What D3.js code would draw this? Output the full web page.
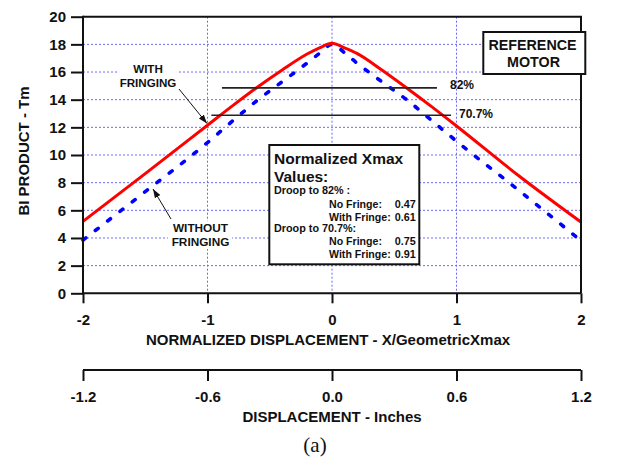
<!DOCTYPE html>
<html>
<head>
<meta charset="utf-8">
<script src="https://cdn.jsdelivr.net/npm/d3@7"></script>
<style>
  html, body { margin: 0; padding: 0; background: #fff; }
  svg { display: block; }
  text { font-family: "Liberation Sans", Arial, sans-serif; font-weight: bold; fill: #111; }
  text.caption { font-family: "Liberation Serif", "Times New Roman", serif; font-weight: normal; }
</style>
</head>
<body>
<svg id="chart" width="619" height="464"></svg>
<script>
// Normalized displacement samples (X / Geometric Xmax)
const xNorm = [-2, -1.5, -1, -0.8, -0.6, -0.4, -0.2, -0.1, 0, 0.1, 0.2, 0.4, 0.6, 0.8, 1, 1.5, 2];
// BI product (T·m) with fringing flux included
const withFringing = [5.2, 8.65, 12.15, 13.55, 14.9, 16.15, 17.3, 17.75, 18.08, 17.75, 17.35, 16.15, 14.85, 13.5, 12.1, 8.5, 5.15];
// BI product (T·m) without fringing flux
const withoutFringing = [3.85, 7.35, 10.9, 12.45, 13.95, 15.3, 16.65, 17.35, 18.0, 17.4, 16.65, 15.3, 14.0, 12.5, 11.0, 7.45, 3.8];

// Droop reference levels: label, BI level, x start, x end
const droopLabels = ["82%", "70.7%"];
const droopLevels = [14.85, 12.88];
const droopStart = [-0.884, -0.969];
const droopEnd = [0.843, 0.956];

// Tick values
const yTicks = [0, 2, 4, 6, 8, 10, 12, 14, 16, 18, 20];
const xTicks = [-2, -1, 0, 1, 2];
const inchTicks = [-1.2, -0.6, 0.0, 0.6, 1.2];

// Table of normalized Xmax values
const tableTitle = ["Normalized Xmax", "Values:"];
const tableGroups = ["Droop to 82% :", "Droop to 70.7%:"];
const tableRows = ["No Fringe:", "With Fringe:"];
const tableValues = [["0.47", "0.61"], ["0.75", "0.91"]];

const svg = d3.select("#chart");

const L = 83, R = 581, T = 16.7, B = 293.3;
const x = d3.scaleLinear().domain([-2, 2]).range([L, R]);
const y = d3.scaleLinear().domain([0, 20]).range([B, T]);
const xIn = d3.scaleLinear().domain([-1.2, 1.2]).range([L, R]);

const defs = svg.append("defs");
defs.append("marker")
  .attr("id", "arrow")
  .attr("viewBox", "0 0 10 10")
  .attr("refX", 10).attr("refY", 5)
  .attr("markerWidth", 9).attr("markerHeight", 9)
  .attr("markerUnits", "userSpaceOnUse")
  .attr("orient", "auto")
  .append("path").attr("d", "M0,1.5 L10,5 L0,8.5 Z").attr("fill", "#111");

// Grid
const grid = svg.append("g").attr("stroke", "#6a6aff").attr("stroke-width", 1).attr("stroke-dasharray", "2,2");
grid.selectAll("line.h").data(yTicks.filter(d => d > 0 && d < 20)).join("line")
  .attr("x1", L).attr("x2", R).attr("y1", d => y(d)).attr("y2", d => y(d));
grid.selectAll("line.v").data(xTicks.filter(d => d > -2 && d < 2)).join("line")
  .attr("class", "v")
  .attr("y1", T).attr("y2", B).attr("x1", d => x(d)).attr("x2", d => x(d));

// Curve annotations (white backing over the grid)
function annot(lines, cx, baselines, size, bg) {
  const g = svg.append("g");
  g.append("rect").attr("x", bg[0]).attr("y", bg[1]).attr("width", bg[2]).attr("height", bg[3]).attr("fill", "#fff");
  lines.forEach((t, i) => {
    g.append("text").attr("x", cx).attr("y", baselines[i]).attr("text-anchor", "middle")
      .attr("font-size", size).text(t);
  });
  return g;
}
annot(["WITH", "FRINGING"], 148, [72.5, 87], 11.6, [118, 62, 61, 27]);
annot(["WITHOUT", "FRINGING"], 200.5, [231.7, 246], 11.8, [168, 221, 64, 28]);

svg.append("line").attr("x1", 179).attr("y1", 89).attr("x2", 207).attr("y2", 123.5)
  .attr("stroke", "#111").attr("stroke-width", 1).attr("marker-end", "url(#arrow)");
svg.append("line").attr("x1", 171).attr("y1", 219).attr("x2", 153).attr("y2", 189)
  .attr("stroke", "#111").attr("stroke-width", 1).attr("marker-end", "url(#arrow)");

// Curves
const line = d3.line().curve(d3.curveMonotoneX);
svg.append("path")
  .attr("d", line(xNorm.map((d, i) => [x(d), y(withoutFringing[i])])))
  .attr("fill", "none").attr("stroke", "#0000ff").attr("stroke-width", 3.6)
  .attr("stroke-linecap", "round").attr("stroke-dasharray", "3.6,12");
svg.append("path")
  .attr("d", line(xNorm.map((d, i) => [x(d), y(withFringing[i])])))
  .attr("fill", "none").attr("stroke", "#ff0000").attr("stroke-width", 3);

// Droop levels
droopLevels.forEach((lv, i) => {
  svg.append("line").attr("x1", x(droopStart[i])).attr("x2", x(droopEnd[i]))
    .attr("y1", y(lv)).attr("y2", y(lv)).attr("stroke", "#222").attr("stroke-width", i === 0 ? 1.8 : 1.5);
});
svg.append("text").attr("x", 450).attr("y", 89).attr("font-size", 12).text(droopLabels[0]);
svg.append("text").attr("x", 459).attr("y", 118.3).attr("font-size", 12).text(droopLabels[1]);

// Frame (top and right)
svg.append("path").attr("d", `M${L},${T}H${R}V${B}`).attr("fill", "none").attr("stroke", "#111").attr("stroke-width", 2);

// Y axis
const yAxis = svg.append("g").attr("transform", `translate(${L},0)`)
  .call(d3.axisLeft(y).tickValues(yTicks).tickSize(12).tickPadding(5).tickFormat(d => String(d)));
// X axis (normalized)
const xAxis = svg.append("g").attr("transform", `translate(0,${B})`)
  .call(d3.axisBottom(x).tickValues(xTicks).tickSize(10).tickPadding(11).tickFormat(d => String(d)));
// X axis (inches)
const inAxis = svg.append("g").attr("transform", `translate(0,370)`)
  .call(d3.axisBottom(xIn).tickValues(inchTicks).tickSize(11).tickPadding(10).tickFormat(d => d.toFixed(1)));

[yAxis, xAxis, inAxis].forEach(g => {
  g.select(".domain").attr("stroke", "#111").attr("stroke-width", 2);
  g.selectAll(".tick line").attr("stroke", "#111").attr("stroke-width", 2);
  g.selectAll(".tick text").attr("font-size", 15).attr("fill", "#111");
});
xAxis.select(".domain").attr("d", `M${L},0H${R}`);
inAxis.select(".domain").attr("d", `M${L},0H${R}`);
yAxis.select(".domain").attr("d", `M0,${B + 1}V${T - 1}`);

// Axis titles
svg.append("text").attr("transform", "translate(29,151) rotate(-90)")
  .attr("text-anchor", "middle").attr("font-size", 15).text("BI PRODUCT - Tm");
svg.append("text").attr("x", 328).attr("y", 345).attr("text-anchor", "middle")
  .attr("font-size", 15).text("NORMALIZED DISPLACEMENT - X/GeometricXmax");
svg.append("text").attr("x", 332).attr("y", 422).attr("text-anchor", "middle")
  .attr("font-size", 15).text("DISPLACEMENT - Inches");
svg.append("text").attr("class", "caption").attr("x", 315).attr("y", 452).attr("text-anchor", "middle")
  .attr("font-size", 21).text("(a)");

// Reference motor tag
const ref = svg.append("g");
ref.append("rect").attr("x", 483.3).attr("y", 32).attr("width", 102).attr("height", 42)
  .attr("fill", "#fff").attr("stroke", "#111").attr("stroke-width", 2);
ref.append("text").attr("x", 532.5).attr("y", 50).attr("text-anchor", "middle").attr("font-size", 14.3).text("REFERENCE");
ref.append("text").attr("x", 533.5).attr("y", 66.7).attr("text-anchor", "middle").attr("font-size", 14.3).text("MOTOR");

// Normalized Xmax table
const tb = svg.append("g");
tb.append("rect").attr("x", 269.3).attr("y", 145).attr("width", 150).attr("height", 119.3)
  .attr("fill", "#fff").attr("stroke", "#111").attr("stroke-width", 2);
tb.append("text").attr("x", 274).attr("y", 164.3).attr("font-size", 15.5).text(tableTitle[0]);
tb.append("text").attr("x", 274).attr("y", 181.7).attr("font-size", 15.5).text(tableTitle[1]);
const groupBase = [194.3, 232.3];
const rowBase = [[207.7, 220.7], [245, 257.7]];
tableGroups.forEach((gname, gi) => {
  tb.append("text").attr("x", 274).attr("y", groupBase[gi]).attr("font-size", 10.8).text(gname);
  tableRows.forEach((r, ri) => {
    tb.append("text").attr("x", 329).attr("y", rowBase[gi][ri]).attr("font-size", 10.6).text(r);
    tb.append("text").attr("x", 415.7).attr("y", rowBase[gi][ri]).attr("text-anchor", "end")
      .attr("font-size", 10.8).text(tableValues[gi][ri]);
  });
});
</script>
</body>
</html>
